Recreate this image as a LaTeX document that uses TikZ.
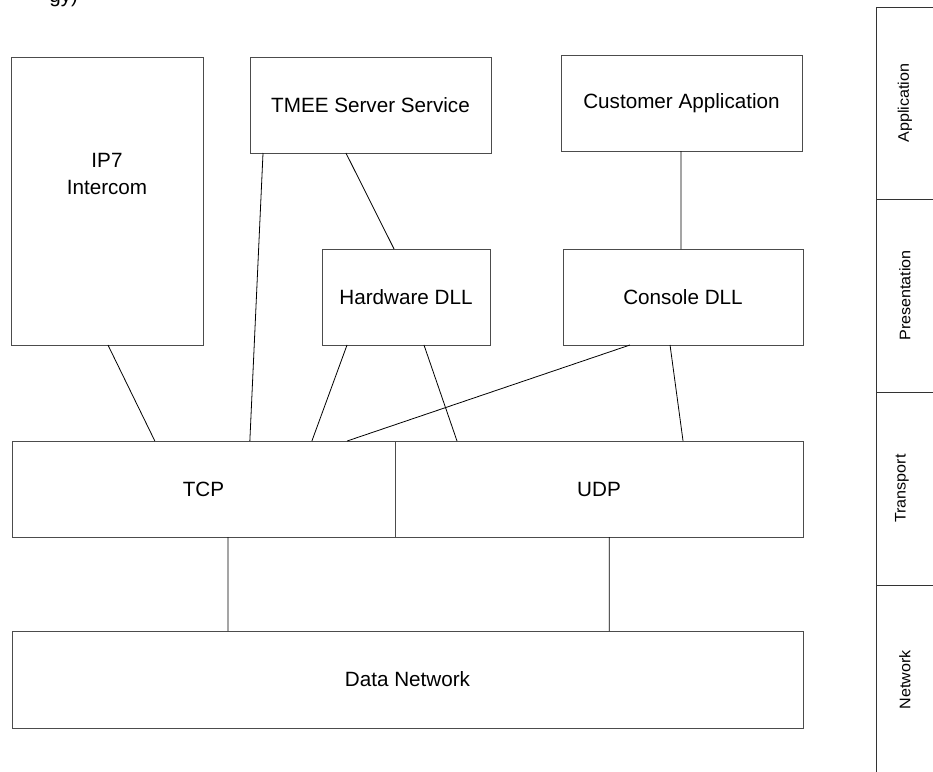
\documentclass[tikz,border=0pt]{standalone}
\usepackage{fontspec}
\setmainfont{Liberation Sans}
\usetikzlibrary{calc}
\begin{document}
\begin{tikzpicture}[x=0.75pt,y=-0.75pt,
  box/.style={draw=black!70,line width=0.7pt,outer sep=0pt,inner sep=0pt,font=\fontsize{15.5}{19}\selectfont,align=center},
  lbl/.style={font=\fontsize{15.5}{20}\selectfont,align=center,inner sep=0pt},
  side/.style={font=\fontsize{11.5}{13}\selectfont,rotate=90,inner sep=0pt,xscale=1.05},
  link/.style={draw=black,line width=0.6pt},
  col/.style={draw=black!80,line width=0.7pt}]
\useasboundingbox (0,0) rectangle (933,772);
\clip (0,0) rectangle (933,772);
% cut-off heading fragment
\node[lbl,anchor=base west] (head) at (49,2.5) {gy)};
% boxes
\node[box,minimum width=144pt,minimum height=216pt] (ip7) at (107,201) {};
\node[lbl] (ip7t) at (107,174) {IP7\\Intercom};
\node[box,minimum width=180.75pt,minimum height=72pt] (tmee) at (370.5,105) {TMEE Server Service};
\node[box,minimum width=180.75pt,minimum height=72pt] (cust) at (681.5,103) {Customer Application};
\node[box,minimum width=126pt,minimum height=72pt] (hw) at (406,297) {Hardware DLL};
\node[box,minimum width=180pt,minimum height=72pt] (con) at (683,297) {Console DLL};
\node[box,minimum width=287.25pt,minimum height=72pt] (tcp) at (203.5,489) {TCP};
\node[box,minimum width=306pt,minimum height=72pt] (udp) at (599,489) {UDP};
\node[box,minimum width=593.25pt,minimum height=72.75pt] (net) at (407.5,679.5) {Data Network};
% connectors
\draw[link] ($(ip7.south west)!0.505!(ip7.south east)$) -- ($(tcp.north west)!0.373!(tcp.north east)$);
\draw[link] ($(tmee.south west)!0.054!(tmee.south east)$) -- ($(tcp.north west)!0.621!(tcp.north east)$);
\draw[link] ($(tmee.south west)!0.398!(tmee.south east)$) -- ($(hw.north west)!0.429!(hw.north east)$);
\draw[link] ($(hw.south west)!0.149!(hw.south east)$) -- ($(tcp.north west)!0.783!(tcp.north east)$);
\draw[link] ($(hw.south west)!0.607!(hw.south east)$) -- ($(udp.north west)!0.152!(udp.north east)$);
\draw[link] ($(con.south west)!0.279!(con.south east)$) -- ($(tcp.north west)!0.875!(tcp.north east)$);
\draw[link] ($(con.south west)!0.446!(con.south east)$) -- ($(udp.north west)!0.706!(udp.north east)$);
\draw[link] ($(cust.south west)!0.498!(cust.south east)$) -- ($(con.north west)!0.492!(con.north east)$);
\draw[link] ($(tcp.south west)!0.564!(tcp.south east)$) -- ($(net.north west)!0.273!(net.north east)$);
\draw[link] ($(udp.south west)!0.525!(udp.south east)$) -- ($(net.north west)!0.755!(net.north east)$);
% layer column
\coordinate (c0) at (876,7);
\coordinate (c1) at (876,199);
\coordinate (c2) at (876,392);
\coordinate (c3) at (876,585);
\coordinate (c4) at (876,772);
\draw[col] (933,7) -- (c0) -- (c4);
\draw[col] (c1) -- (933,199);
\draw[col] (c2) -- (933,392);
\draw[col] (c3) -- (933,585);
\node[side] (lapp) at (905,103) {Application};
\node[side] (lpre) at (905,295.5) {Presentation};
\node[side] (ltra) at (902,488.5) {Transport};
\node[side] (lnet) at (905,680) {Network};
\end{tikzpicture}
\end{document}
